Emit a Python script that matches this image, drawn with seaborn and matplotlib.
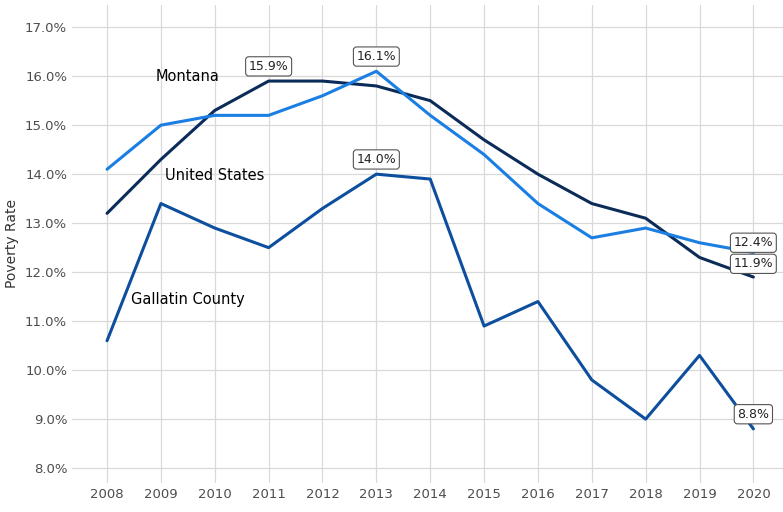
import matplotlib
matplotlib.use('Agg')
import pandas as pd
import matplotlib.pyplot as plt
import seaborn as sns
from matplotlib.ticker import FuncFormatter

# ── Data ──────────────────────────────────────────────
years = list(range(2008, 2021))
united_states = [13.2, 14.3, 15.3, 15.9, 15.9, 15.8, 15.5, 14.7, 14.0, 13.4, 13.1, 12.3, 11.9]
montana = [14.1, 15.0, 15.2, 15.2, 15.6, 16.1, 15.2, 14.4, 13.4, 12.7, 12.9, 12.6, 12.4]
gallatin = [10.6, 13.4, 12.9, 12.5, 13.3, 14.0, 13.9, 10.9, 11.4, 9.8, 9.0, 10.3, 8.8]

series_names = ['United States', 'Montana', 'Gallatin County']
series_colors = ['#0b2b59', '#1a7ee3', '#0d4f9e']

# label positions for the series names (year, value)
name_labels = {'Montana': (2009.5, 16.0),
               'United States': (2010.0, 13.98),
               'Gallatin County': (2009.5, 11.45)}

# boxed value labels: (year, value)
value_labels = [(2011, 15.9), (2013, 16.1), (2013, 14.0),
                (2020, 12.4), (2020, 11.9), (2020, 8.8)]
label_nudge = [0.3, 0.3, 0.3, 0.2, 0.27, 0.3]

df = pd.DataFrame({'year': years,
                   'United States': united_states,
                   'Montana': montana,
                   'Gallatin County': gallatin})
long_df = df.melt(id_vars='year', var_name='area', value_name='rate')

# ── Plot ──────────────────────────────────────────────
sns.set_theme(style='whitegrid')
plt.rcParams['font.family'] = ['DejaVu Sans']

fig, ax = plt.subplots(figsize=(7.83, 5.12), dpi=100)
sns.lineplot(data=long_df, x='year', y='rate', hue='area',
             hue_order=series_names, palette=series_colors,
             linewidth=2.2, legend=False, ax=ax)

for name, (x, y) in name_labels.items():
    ax.text(x, y, name, fontsize=10.5, color='black', ha='center', va='center')

for (x, y), dy in zip(value_labels, label_nudge):
    ax.text(x, y + dy, f'{y:.1f}%', fontsize=9, color='#222222',
            ha='center', va='center',
            bbox=dict(boxstyle='round,pad=0.25', fc='white', ec='#555555', lw=0.8))

ax.set_xlim(2007.35, 2020.55)
ax.set_ylim(7.7, 17.45)
ax.set_xticks(years)
ax.set_yticks([8, 9, 10, 11, 12, 13, 14, 15, 16, 17])
ax.yaxis.set_major_formatter(FuncFormatter(lambda v, _: f'{v:.1f}%'))
ax.set_xlabel('')
ax.set_ylabel('Poverty Rate', fontsize=10, color='#333333')
ax.tick_params(axis='both', labelsize=9.5, colors='#4d4d4d', length=0)
ax.grid(color='#d9d9d9', linewidth=0.9)
for s in ax.spines.values():
    s.set_visible(False)

plt.subplots_adjust(left=0.092, right=1.0, top=0.99, bottom=0.057)
plt.savefig('out.png', dpi=100)
